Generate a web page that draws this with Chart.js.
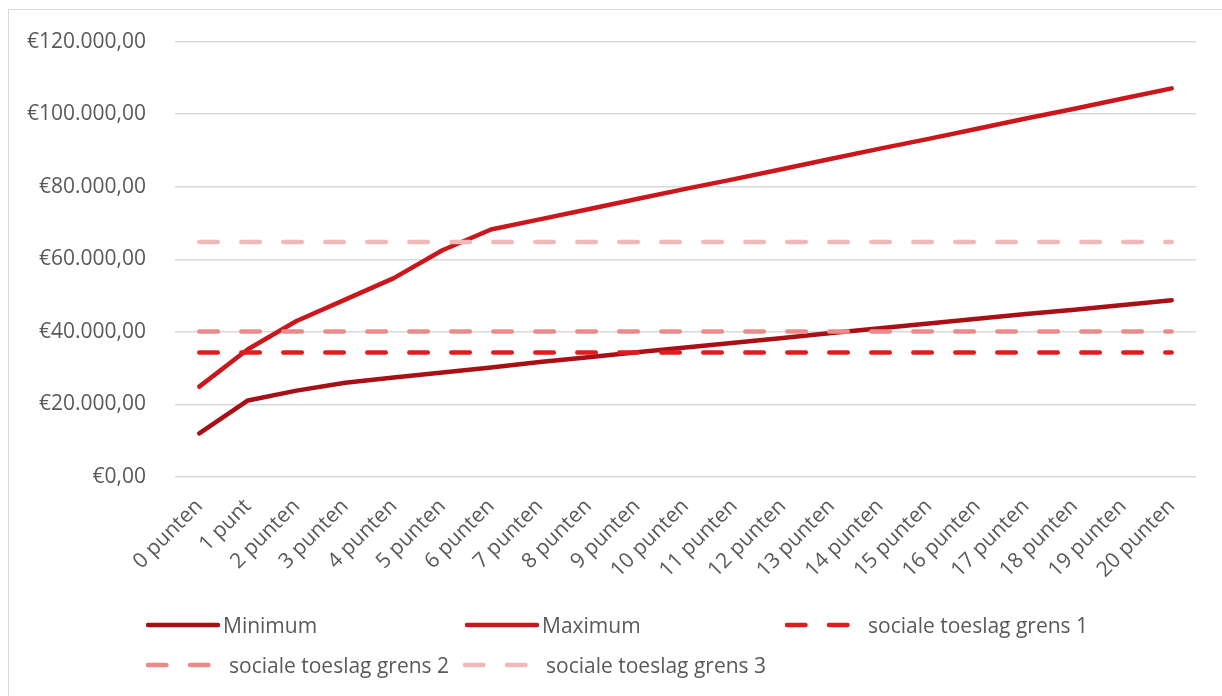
<!DOCTYPE html>
<html lang="nl">
<head>
<meta charset="utf-8">
<title>Huurprijs per punt</title>
<script src="https://cdn.jsdelivr.net/npm/chart.js@4.4.1/dist/chart.umd.min.js"></script>
<style>
  html, body { margin: 0; padding: 0; background: #fff; overflow: hidden; }
  body { width: 1222px; height: 696px; position: relative; font-family: 'Open Sans', sans-serif; }
  .frame { position: absolute; left: 8px; top: 9px; width: 1400px; height: 900px; border: 1px solid #d9d9d9; }
  #chartCanvas { position: absolute; left: 0; top: 0; }
  .legend-item { position: absolute; display: flex; align-items: center; height: 30px; font-size: 21px; color: #595959; white-space: nowrap; }
  .legend-item svg { flex-shrink: 0; display: block; }
</style>
</head>
<body>
<div class="frame"></div>
<canvas id="chartCanvas" width="1222" height="696"></canvas>
<div id="legend"></div>

<script>
const labels = [
    '0 punten', '1 punt', '2 punten', '3 punten', '4 punten', '5 punten', '6 punten',
    '7 punten', '8 punten', '9 punten', '10 punten', '11 punten', '12 punten', '13 punten',
    '14 punten', '15 punten', '16 punten', '17 punten', '18 punten', '19 punten', '20 punten'
];

const minimum = [
    12000, 21100, 23800, 26000, 27400, 28800, 30200, 31700, 33000, 34400, 35700,
    37000, 38300, 39700, 41000, 42300, 43600, 44900, 46100, 47400, 48700
];

const maximum = [
    24900, 35200, 43000, 48900, 54800, 62500, 68200, 71000, 73800, 76600, 79400,
    82100, 84900, 87700, 90500, 93200, 96000, 98800, 101500, 104300, 107100
];

const grens1 = [
    34300, 34300, 34300, 34300, 34300, 34300, 34300, 34300, 34300, 34300, 34300,
    34300, 34300, 34300, 34300, 34300, 34300, 34300, 34300, 34300, 34300
];

const grens2 = [
    40100, 40100, 40100, 40100, 40100, 40100, 40100, 40100, 40100, 40100, 40100,
    40100, 40100, 40100, 40100, 40100, 40100, 40100, 40100, 40100, 40100
];

const grens3 = [
    64800, 64800, 64800, 64800, 64800, 64800, 64800, 64800, 64800, 64800, 64800,
    64800, 64800, 64800, 64800, 64800, 64800, 64800, 64800, 64800, 64800
];

const yTicks = [0, 20000, 40000, 60000, 80000, 100000, 120000];

const textColor = '#595959';
const gridColor = '#d9d9d9';
const fontFamily = "'Open Sans', sans-serif";


function formatEuro(value) {
    const parts = value.toFixed(2).split('.');
    const whole = parts[0].replace(/\B(?=(\d{3})+(?!\d))/g, '.');
    return '€' + whole + ',' + parts[1];
}


function makeDataset(label, data, color, dashed, order) {
    return {
        label,
        data,
        borderColor: color,
        backgroundColor: color,
        borderWidth: 4.5,
        borderDash: dashed ? [18.5, 23.5] : [],
        borderCapStyle: 'round',
        borderJoinStyle: 'round',
        pointRadius: 0,
        pointHoverRadius: 0,
        tension: 0,
        fill: false,
        order
    };
}

const datasets = [
    makeDataset('Minimum', minimum, '#a81015', false, 5),
    makeDataset('Maximum', maximum, '#cb171b', false, 4),
    makeDataset('sociale toeslag grens 1', grens1, '#e31b1e', true, 3),
    makeDataset('sociale toeslag grens 2', grens2, '#ec8a8a', true, 2),
    makeDataset('sociale toeslag grens 3', grens3, '#f2b8b8', true, 1)
];

const ctx = document.getElementById('chartCanvas').getContext('2d');

new Chart(ctx, {
    type: 'line',
    data: { labels, datasets },
    options: {
        responsive: false,
        animation: false,
        events: [],
        layout: {
            padding: { left: 0, top: 38, right: 26, bottom: 89 }
        },
        plugins: {
            legend: { display: false },
            tooltip: { enabled: false }
        },
        scales: {
            x: {
                offset: true,
                grid: { display: false, drawTicks: false },
                border: { display: false },
                ticks: {
                    color: textColor,
                    font: { family: fontFamily, size: 21 },
                    minRotation: 45,
                    maxRotation: 45,
                    autoSkip: false,
                    padding: 17
                },
                afterFit: (scale) => { scale.height = 130; }
            },
            y: {
                min: yTicks[0],
                max: yTicks[yTicks.length - 1],
                grid: { color: gridColor, lineWidth: 1.5, drawTicks: false },
                border: { display: false },
                ticks: {
                    stepSize: yTicks[1] - yTicks[0],
                    color: textColor,
                    font: { family: fontFamily, size: 21 },
                    padding: 29,
                    callback: (value) => formatEuro(value)
                },
                afterFit: (scale) => { scale.width = 175; }
            }
        }
    }
});


// legend below the chart, laid out in Excel-like columns
const legendSpots = [
    { left: 146, top: 610 },
    { left: 465, top: 610 },
    { left: 785, top: 610 },
    { left: 146, top: 650 },
    { left: 463, top: 650 }
];

const legendEl = document.getElementById('legend');

datasets.forEach((ds, i) => {
    const spot = legendSpots[i];
    const dashed = ds.borderDash.length > 0;
    const item = document.createElement('div');
    item.className = 'legend-item';
    item.style.left = spot.left + 'px';
    item.style.top = spot.top + 'px';

    const svgWidth = dashed ? 83 : 77;
    const lineEnd = dashed ? 64 : 72;
    const dash = dashed ? 'stroke-dasharray="18.5 23.5"' : '';
    item.innerHTML = `
      <svg width="${svgWidth}" height="30" viewBox="0 0 ${svgWidth} 30">
        <line x1="2" y1="15" x2="${lineEnd}" y2="15" stroke="${ds.borderColor}" stroke-width="4.5" stroke-linecap="round" ${dash} />
      </svg>
      <span>${ds.label}</span>
    `;
    legendEl.appendChild(item);
});
</script>
</body>
</html>
